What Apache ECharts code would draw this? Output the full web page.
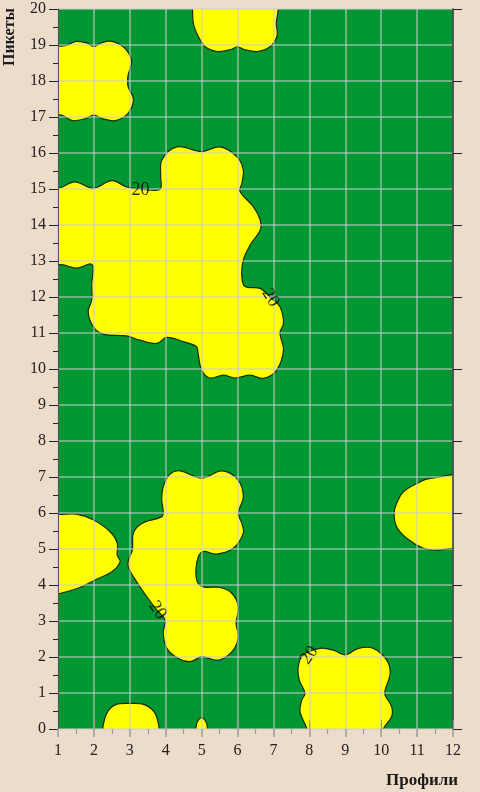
<!DOCTYPE html>
<html>
<head>
<meta charset="utf-8">
<script src="https://cdn.jsdelivr.net/npm/echarts@6/dist/echarts.min.js"></script>
<style>
html,body{margin:0;padding:0;background:#eedccb;}
#chart{width:480px;height:792px;}
</style>
</head>
<body>
<div id="chart"></div>
<script>
// Axis settings
const xTitle = 'Профили';
const yTitle = 'Пикеты';
const xMin = 1, xMax = 12;
const yMin = 0, yMax = 20;
const topTicks = [2, 4, 6, 8, 10, 12];

// Contour level label
const levelText = '20';

// Regions above level 20 (outline points, profile / picket)
const blobTopLeft = [[0.7,18.9],[1.2,18.98],[1.5,19.1],[1.8,19.06],[2.0,18.96],[2.2,19.06],[2.5,19.1],[2.85,18.92],[3.05,18.55],[2.95,18.15],[2.95,17.85],[3.1,17.5],[2.95,17.1],[2.6,16.9],[2.25,16.95],[2.0,17.05],[1.75,16.95],[1.4,16.9],[1.1,17.05],[0.7,17.1]];
const blobTopMid = [[4.8,20.4],[4.75,19.9],[4.78,19.55],[4.9,19.25],[5.1,18.95],[5.45,18.82],[5.8,18.87],[6.0,18.95],[6.2,18.87],[6.55,18.82],[6.9,18.95],[7.1,19.25],[7.08,19.6],[7.12,19.9],[7.15,20.4]];
const blobBig = [[0.7,14.97],[1.1,15.05],[1.47,15.2],[1.98,15.02],[2.5,15.23],[2.91,15.06],[3.28,15.0],[3.84,14.99],[3.86,15.34],[3.89,15.8],[4.31,16.17],[5.0,16.04],[5.51,16.17],[5.98,15.9],[6.16,15.53],[6.12,15.16],[6.07,14.93],[6.44,14.51],[6.63,14.14],[6.63,13.86],[6.35,13.44],[6.16,13.03],[6.12,12.56],[6.21,12.29],[6.63,12.24],[6.9,12.0],[7.18,11.73],[7.28,11.27],[7.18,11.0],[7.28,10.53],[7.09,9.97],[6.72,9.74],[6.35,9.83],[5.93,9.75],[5.6,9.83],[5.23,9.75],[5.0,9.97],[4.9,10.44],[4.86,10.62],[4.49,10.76],[4.03,10.88],[3.75,10.71],[3.28,10.8],[2.91,10.92],[2.26,10.97],[1.98,11.18],[1.84,11.59],[1.94,11.92],[1.94,12.38],[1.98,12.84],[1.89,12.92],[1.52,12.8],[1.15,12.89],[0.7,12.98]];
const blobLeftMid = [[0.7,5.94],[1.1,5.96],[1.52,5.97],[1.98,5.81],[2.45,5.48],[2.65,5.16],[2.65,4.83],[2.73,4.65],[2.5,4.37],[2.03,4.14],[1.61,3.93],[1.0,3.75],[0.7,3.72]];
const blobCenter = [[4.12,7.08],[4.4,7.17],[5.0,6.97],[5.57,7.17],[6.01,6.92],[6.16,6.45],[6.02,6.0],[6.12,5.71],[6.16,5.44],[5.88,5.02],[5.42,4.86],[5.05,4.93],[4.91,4.79],[4.84,4.42],[4.88,4.09],[5.05,3.95],[5.51,3.93],[5.84,3.77],[6.02,3.4],[5.96,2.94],[6.02,2.56],[5.88,2.19],[5.51,1.92],[5.19,1.96],[5.0,2.01],[4.68,1.87],[4.35,1.96],[4.03,2.24],[3.93,2.66],[3.98,3.03],[3.75,3.31],[3.47,3.68],[3.19,4.09],[2.96,4.49],[2.96,4.69],[3.07,4.97],[3.1,5.44],[3.33,5.71],[3.89,5.9],[3.93,6.04],[3.89,6.36],[3.93,6.73]];
const blobRight = [[12.3,6.96],[11.36,6.96],[10.99,6.82],[10.62,6.59],[10.43,6.27],[10.36,5.99],[10.43,5.62],[10.71,5.3],[11.18,5.02],[11.55,4.97],[12.0,5.02],[12.3,5.02]];
const blobBottomRight = [[7.95,-0.3],[7.93,0.0],[7.74,0.48],[7.79,0.81],[7.88,0.99],[7.72,1.36],[7.69,1.73],[7.83,2.06],[8.3,2.24],[8.67,2.19],[9.0,2.06],[9.37,2.24],[9.78,2.24],[10.15,1.92],[10.25,1.55],[10.11,1.08],[10.11,0.94],[10.29,0.62],[10.29,0.34],[10.06,0.0],[10.04,-0.3]];
const blobBottomLeft = [[2.22,-0.3],[2.24,0.0],[2.36,0.44],[2.59,0.67],[3.0,0.71],[3.42,0.67],[3.7,0.44],[3.82,0.0],[3.84,-0.3]];
const blobBottomSmall = [[4.85,-0.3],[4.85,0.1],[4.92,0.27],[5.0,0.31],[5.08,0.27],[5.15,0.1],[5.15,-0.3]];

const blobs = [blobTopLeft, blobTopMid, blobBig, blobLeftMid, blobCenter, blobRight, blobBottomRight, blobBottomLeft, blobBottomSmall];

// Contour label positions and angles
const labelPoints = [[3.3,14.97],[6.92,11.98],[3.77,3.3],[8.0,2.05]];
const labelAngles = [0,-58,-55,55];

const serif = '"Liberation Serif","DejaVu Serif","Times New Roman",serif';

const chart = echarts.init(document.getElementById('chart'), null, {renderer:'canvas'});

chart.setOption({
  backgroundColor: '#eedccb',
  animation: false,
  grid: {
    left: 58, right: 27, top: 9, bottom: 63,
    show: true, backgroundColor: '#009632', borderWidth: 0
  },
  xAxis: [{
    type: 'value', min: xMin, max: xMax, interval: 1, z: 3,
    position: 'bottom',
    axisLine: {show: false},
    axisTick: {show: true, length: 8, lineStyle: {color: '#9a9a9a', width: 1.5}},
    minorTick: {show: true, splitNumber: 2, length: 5, lineStyle: {color: '#9a9a9a', width: 1.2}},
    axisLabel: {margin: 14, color: '#222', fontFamily: serif, fontSize: 16},
    splitLine: {show: true, lineStyle: {color: 'rgba(205,205,205,0.7)', width: 1.5}}
  }, {
    type: 'value', min: xMin, max: xMax, position: 'top', z: 3,
    axisLine: {show: false},
    axisTick: {show: true, length: 9, customValues: topTicks, lineStyle: {color: '#9a9a9a', width: 1.2}},
    axisLabel: {show: false},
    splitLine: {show: false}
  }],
  yAxis: [{
    type: 'value', min: yMin, max: yMax, interval: 1, z: 3,
    position: 'left',
    axisLine: {show: true, lineStyle: {color: '#555', width: 1}},
    axisTick: {show: true, length: 9, lineStyle: {color: '#222', width: 1}},
    minorTick: {show: true, splitNumber: 2, length: 5, lineStyle: {color: '#222', width: 1}},
    axisLabel: {margin: 12, color: '#222', fontFamily: serif, fontSize: 16},
    splitLine: {show: true, lineStyle: {color: 'rgba(205,205,205,0.7)', width: 1.5}}
  }, {
    type: 'value', min: yMin, max: yMax, interval: 2, z: 3,
    position: 'right',
    axisLine: {show: true, lineStyle: {color: '#333', width: 1.5}},
    axisTick: {show: true, length: 9, lineStyle: {color: '#222', width: 1}},
    axisLabel: {show: false},
    splitLine: {show: false}
  }],
  series: [{
    type: 'custom',
    clip: true,
    z: 2,
    xAxisIndex: 0, yAxisIndex: 0,
    data: blobs.map((b, i) => [i]),
    renderItem: function (params, api) {
      const pts = blobs[api.value(0)].map(p => api.coord(p));
      return {
        type: 'polygon',
        shape: {points: pts, smooth: 0.35},
        style: {fill: '#ffff00', stroke: '#1c2a10', lineWidth: 1.2}
      };
    }
  }, {
    type: 'scatter',
    z: 5,
    xAxisIndex: 0, yAxisIndex: 0,
    symbolSize: 0,
    silent: true,
    data: labelPoints.map((p, i) => ({
      value: p,
      label: {rotate: labelAngles[i]}
    })),
    label: {
      show: true, position: 'inside', formatter: levelText,
      color: '#000', fontFamily: serif, fontSize: 18
    }
  }],
  graphic: [{
    type: 'text',
    left: 386, top: 772,
    style: {text: xTitle, font: 'bold 17px ' + serif, fill: '#1a1a1a'}
  }, {
    type: 'text',
    x: 2, y: 66,
    rotation: Math.PI / 2,
    style: {text: yTitle, font: 'bold 16px ' + serif, fill: '#1a1a1a', textVerticalAlign: 'top'}
  }]
});
</script>
</body>
</html>
